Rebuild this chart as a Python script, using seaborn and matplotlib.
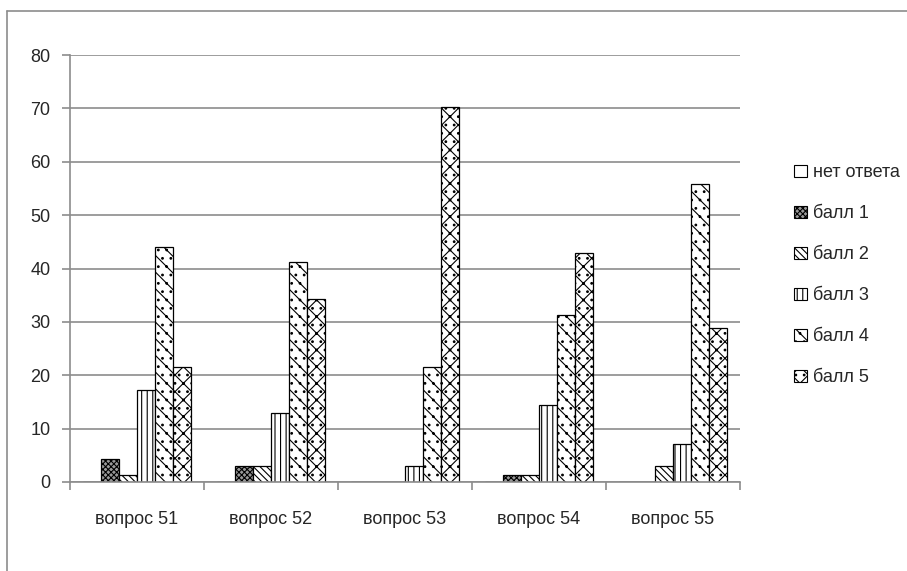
import matplotlib
matplotlib.use("Agg")
import matplotlib.pyplot as plt
import seaborn as sns
import pandas as pd
from matplotlib.lines import Line2D
from matplotlib.patches import Patch

questions = ["вопрос 51", "вопрос 52", "вопрос 53", "вопрос 54", "вопрос 55"]
series = ["нет ответа", "балл 1", "балл 2", "балл 3", "балл 4", "балл 5"]
no_answer = [0, 0, 0, 0, 0]
score1 = [4.3, 3.0, 0, 1.4, 0]
score2 = [1.4, 3.0, 0, 1.4, 3.0]
score3 = [17.2, 13.0, 3.0, 14.5, 7.2]
score4 = [44.1, 41.3, 21.6, 31.3, 55.9]
score5 = [21.5, 34.2, 70.2, 42.9, 28.9]
yticks = [0, 10, 20, 30, 40, 50, 60, 70, 80]

values = [no_answer, score1, score2, score3, score4, score5]
rows = []
for s, vals in zip(series, values):
    for q, v in zip(questions, vals):
        rows.append({"q": q, "s": s, "v": v})
df = pd.DataFrame(rows)

sns.set_theme(style="white")
plt.rcParams["font.family"] = ["Liberation Sans", "DejaVu Sans"]
plt.rcParams["hatch.linewidth"] = 0.8

fig = plt.figure(figsize=(9.07, 5.71), dpi=100)
ax = fig.add_axes([70/907, 1-482/571, (740-70)/907, (482-55)/571])

sns.barplot(data=df, x="q", y="v", hue="s", order=questions, hue_order=series,
            palette=["white"]*6, edgecolor="black", linewidth=0.9,
            width=0.8, ax=ax, legend=False, saturation=1)

hatches = ["", "xxxxxx", "\\\\\\\\\\", "|||", "\\\\..", "xx.."]
faces = ["white", "#9a9a9a", "white", "white", "white", "white"]
for cont, h, fc in zip(ax.containers, hatches, faces):
    for p in cont:
        p.set_hatch(h)
        p.set_facecolor(fc)
        p.set_edgecolor("black")

ax.set_ylim(0, 80)
ax.set_yticks(yticks)
ax.set_xlim(-0.5, 4.5)
ax.set_xlabel("")
ax.set_ylabel("")
ax.yaxis.grid(True, color="#8c8c8c", linewidth=1.2)
ax.set_axisbelow(True)
for side in ["top", "right"]:
    ax.spines[side].set_visible(False)
for side in ["left", "bottom"]:
    ax.spines[side].set_color("#8c8c8c")
    ax.spines[side].set_linewidth(1.2)

ax.set_xticks(range(len(questions)))
ax.set_xticklabels(questions, fontsize=13)
ax.tick_params(axis="x", length=0, pad=21)
ax.tick_params(axis="y", length=6, width=1.2, color="#8c8c8c", labelsize=13, pad=8, left=True)
ax.set_xticks([-0.5, 0.5, 1.5, 2.5, 3.5, 4.5], minor=True)
ax.tick_params(axis="x", which="minor", length=6, width=1.2, color="#8c8c8c", bottom=True, direction="out")

handles = [Patch(facecolor=fc, edgecolor="black", hatch=h, linewidth=0.8) for h, fc in zip(hatches, faces)]
fig.legend(handles, series, loc="upper left", bbox_to_anchor=(787/907, 1-157/571),
           frameon=False, fontsize=13, handlelength=0.7, handleheight=0.7,
           handletextpad=0.35, labelspacing=1.33, borderaxespad=0)

fig.add_artist(Line2D([7/907, 1], [1-11/571, 1-11/571], color="#8c8c8c", linewidth=1.2, transform=fig.transFigure))
fig.add_artist(Line2D([7/907, 7/907], [0, 1-11/571], color="#8c8c8c", linewidth=1.2, transform=fig.transFigure))

fig.savefig("out.png", dpi=100)
